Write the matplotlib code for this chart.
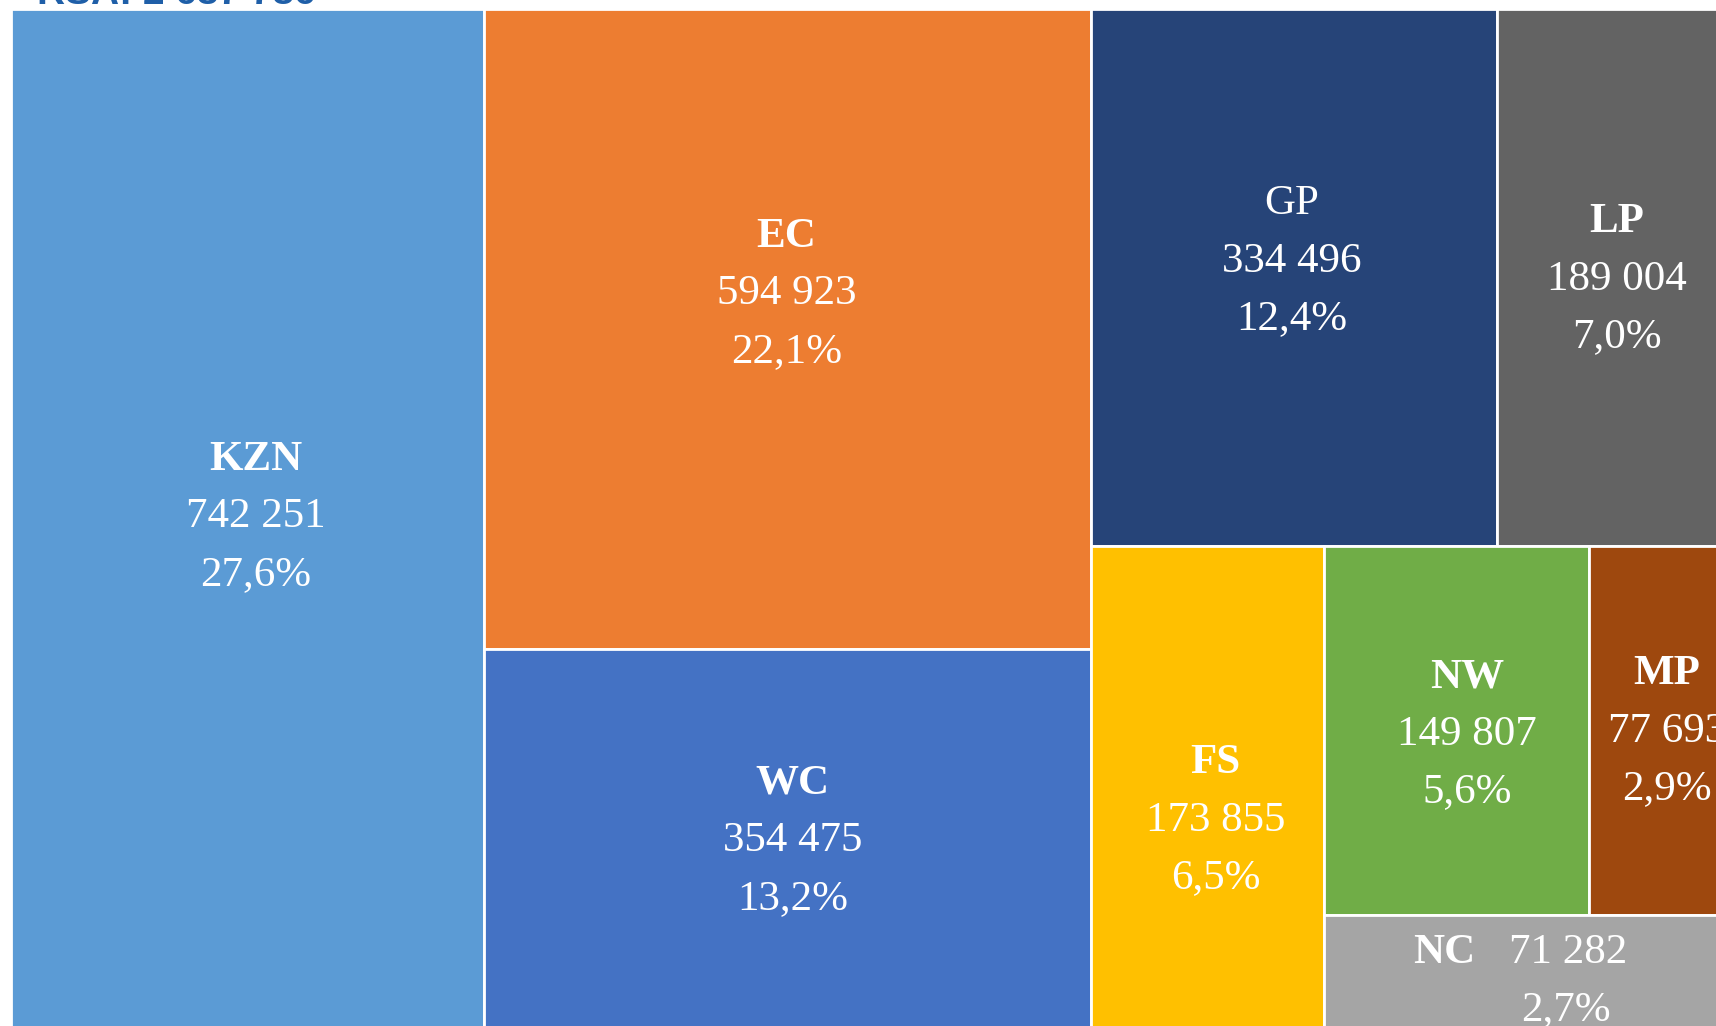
import matplotlib
matplotlib.use("Agg")
import matplotlib.pyplot as plt
from matplotlib.patches import Rectangle

# ---- data ----
names = ["KZN", "EC", "WC", "GP", "LP", "FS", "NW", "MP", "NC"]
values = [742251, 594923, 354475, 334496, 189004, 173855, 149807, 77693, 71282]
colors = ["#5B9BD5", "#ED7D31", "#4472C4", "#264478", "#636363",
          "#FFC000", "#70AD47", "#9E480E", "#A5A5A5"]
bold_name = [True, True, True, False, True, True, True, True, True]

# treemap nesting (h = side by side, v = stacked)
tree = ('h', [0, ('v', [1, 2]),
              ('v', [('h', [3, 4]),
                     ('h', [5, ('v', [('h', [6, 7]), 8])])])])

# label offsets from tile centre (pixels)
label_dx = [8, -1, 5, -2, 5, 8, 10, 9, 0]
label_dy = [-3, -35, 1, -16, 2, 32, 4, 1, 0]

total = sum(values)

def node_sum(node):
    if isinstance(node, int):
        return values[node]
    return sum(node_sum(c) for c in node[1])

rects = {}
def layout(node, x, y, w, h):
    if isinstance(node, int):
        rects[node] = (x, y, w, h)
        return
    d, children = node
    s = node_sum(node)
    pos = 0.0
    for c in children:
        f = node_sum(c) / s
        if d == 'h':
            layout(c, x + pos, y, w * f, h)
            pos += w * f
        else:
            layout(c, x, y + pos, w, h * f)
            pos += h * f

FW, FH = 1716, 1026
fig = plt.figure(figsize=(FW / 100, FH / 100), dpi=100)
ax = fig.add_axes([0, 0, 1, 1])
ax.set_xlim(0, FW)
ax.set_ylim(FH, 0)
ax.axis('off')

X0, Y0, W, H = 10.5, 9, 1716, 1022
layout(tree, X0, Y0, W, H)

def fmt_num(v):
    return f"{v:,}".replace(",", " ")

def fmt_pct(v):
    return f"{100 * v / total:.1f}%".replace(".", ",")

serif = "Liberation Serif"
fs = 31
gap = 57.5

for i, n in enumerate(names):
    x, y, w, h = rects[i]
    ax.add_patch(Rectangle((x, y), w, h, facecolor=colors[i],
                           edgecolor="white", linewidth=2.0))
    cx = x + w / 2 + label_dx[i]
    cy = y + h / 2 + label_dy[i]
    weight = "bold" if bold_name[i] else "normal"
    if n == "NC":
        ax.text(cx - 81, cy - 20, n, ha="center", va="center", color="white",
                fontsize=fs, fontfamily=serif, fontweight=weight)
        ax.text(cx + 43, cy - 20, fmt_num(values[i]), ha="center", va="center",
                color="white", fontsize=fs, fontfamily=serif)
        ax.text(cx + 40, cy + 37, fmt_pct(values[i]), ha="center", va="center",
                color="white", fontsize=fs, fontfamily=serif)
        continue
    ax.text(cx, cy - gap, n, ha="center", va="center", color="white",
            fontsize=fs, fontfamily=serif, fontweight=weight)
    ax.text(cx, cy, fmt_num(values[i]), ha="center", va="center", color="white",
            fontsize=fs, fontfamily=serif)
    ax.text(cx, cy + gap, fmt_pct(values[i]), ha="center", va="center",
            color="white", fontsize=fs, fontfamily=serif)

# title (mostly cut off at top)
ax.text(37, 4, f"RSA: {fmt_num(total)}", ha="left", va="baseline",
        color="#1F5FA8", fontsize=28, fontweight="bold",
        fontfamily="Liberation Sans", clip_on=False)

fig.savefig("out.png", dpi=100)
